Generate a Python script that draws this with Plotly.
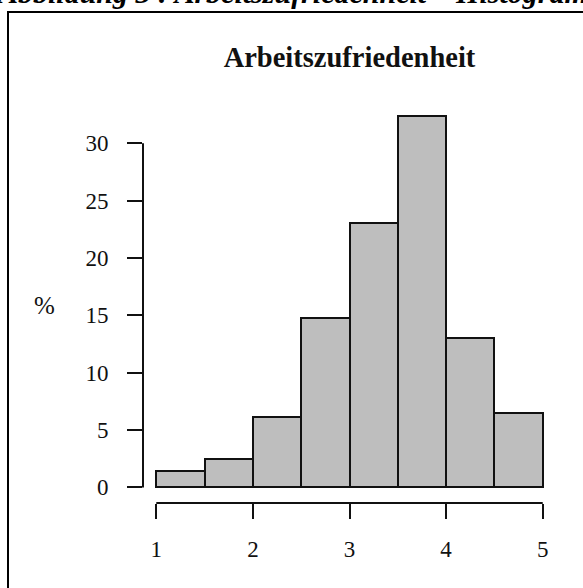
import plotly.graph_objects as go

# Data: histogram bins (left edges), bin width, and percentages
bin_starts = [1.0, 1.5, 2.0, 2.5, 3.0, 3.5, 4.0, 4.5]
bin_width = 0.5
percent = [1.45, 2.47, 6.13, 14.72, 23.08, 32.4, 12.98, 6.48]
x_ticks = [1, 2, 3, 4, 5]
y_ticks = [0, 5, 10, 15, 20, 25, 30]
title_text = "Arbeitszufriedenheit"
ylab_text = "%"
caption_text = "Abbildung 3 : Arbeitszufriedenheit – Histogramm"

W, H = 583, 588
L, R, T, B = 143, 27, 100, 85
pw, ph = W - L - R, H - T - B

def px_x(p):
    return (p - L) / pw

def px_y(p):
    return (H - B - p) / ph

SERIF = "Liberation Serif, Times New Roman, serif"

fig = go.Figure()
fig.add_trace(go.Bar(
    x=bin_starts, y=percent, width=[bin_width] * len(bin_starts), offset=0,
    marker=dict(color="#bebebe", line=dict(color="#111111", width=2)),
    hoverinfo="skip", showlegend=False,
))

fig.update_layout(
    width=W, height=H,
    margin=dict(l=L, r=R, t=T, b=B),
    paper_bgcolor="white", plot_bgcolor="white",
    bargap=0,
    font=dict(family=SERIF, color="#111111", size=22),
    title=dict(text="<b>" + title_text + "</b>", x=349.5 / W,
               xanchor="center", y=1 - 57 / H, yanchor="middle", yref="container",
               font=dict(family=SERIF, size=28.5, color="#111111")),
    xaxis=dict(range=[0.8625, 5.1375], tickvals=x_ticks, ticktext=[str(v) for v in x_ticks],
               showgrid=False, zeroline=False, showline=False,
               ticks="outside", ticklen=15, tickwidth=2, tickcolor="#111111",
               ticklabelstandoff=10, tickfont=dict(family=SERIF, size=23)),
    yaxis=dict(range=[-1.36, 33.76], tickvals=y_ticks, ticktext=[str(v) for v in y_ticks],
               showgrid=False, zeroline=False, showline=False,
               ticks="outside", ticklen=15, tickwidth=2, tickcolor="#111111",
               ticklabelstandoff=14, tickfont=dict(family=SERIF, size=23)),
)

# R-style axis lines spanning only the tick range
fig.add_shape(type="line", xref="paper", yref="y", x0=0, x1=0, y0=y_ticks[0], y1=y_ticks[-1],
              line=dict(color="#111111", width=2))
fig.add_shape(type="line", xref="x", yref="paper", x0=x_ticks[0], x1=x_ticks[-1], y0=0, y1=0,
              line=dict(color="#111111", width=2))

# outer frame
fig.add_shape(type="rect", xref="paper", yref="paper",
              x0=px_x(8), x1=px_x(600), y0=px_y(12), y1=px_y(620),
              line=dict(color="#000000", width=2), fillcolor="rgba(0,0,0,0)")

# y label
fig.add_annotation(text=ylab_text, xref="paper", yref="paper", x=px_x(44), y=px_y(305),
                   showarrow=False, xanchor="center", yanchor="middle",
                   font=dict(family=SERIF, size=25, color="#111111"))

# cut-off caption at the top
fig.add_annotation(text="<b><i>" + caption_text + "</i></b>", xref="paper", yref="paper",
                   x=px_x(-6), y=px_y(11), showarrow=False, xanchor="left", yanchor="bottom",
                   font=dict(family=SERIF, size=30, color="#000000"))

fig.write_html("out.html", config={"displayModeBar": False},
               post_script="document.body.style.margin='0';document.body.style.overflow='hidden';")
